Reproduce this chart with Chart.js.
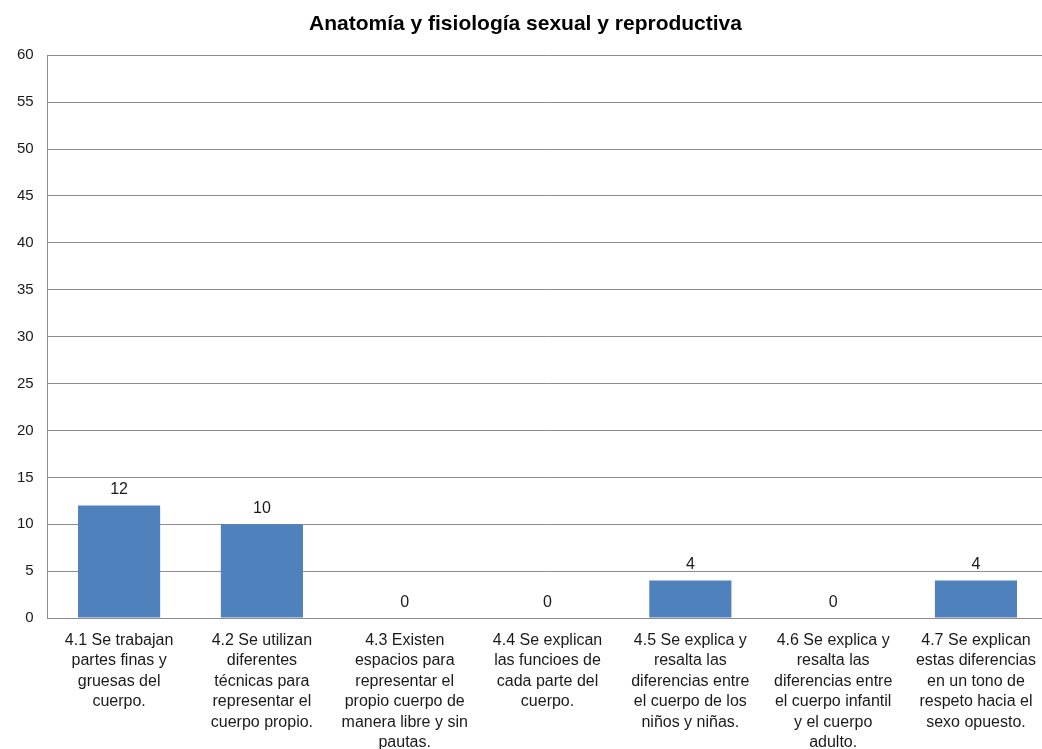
<!DOCTYPE html>
<html>
<head>
<meta charset="utf-8">
<script src="https://cdn.jsdelivr.net/npm/chart.js@4"></script>
<style>
  html, body { margin: 0; background: #fff; overflow: hidden; }
  #wrap { width: 1042px; height: 749px; overflow: hidden; }
</style>
</head>
<body>
<div id="wrap"><canvas id="myChart" width="1048" height="765"></canvas></div>
<script>
var chartTitle = "Anatomía y fisiología sexual y reproductiva";

var categories = [
  ["4.1 Se trabajan", "partes finas y", "gruesas del", "cuerpo."],
  ["4.2 Se utilizan", "diferentes", "técnicas para", "representar el", "cuerpo propio."],
  ["4.3 Existen", "espacios para", "representar el", "propio cuerpo de", "manera libre y sin", "pautas."],
  ["4.4 Se explican", "las funcioes de", "cada parte del", "cuerpo."],
  ["4.5 Se explica y", "resalta las", "diferencias entre", "el cuerpo de los", "niños y niñas."],
  ["4.6 Se explica y", "resalta las", "diferencias entre", "el cuerpo infantil", "y el cuerpo", "adulto."],
  ["4.7 Se explican", "estas diferencias", "en un tono de", "respeto hacia el", "sexo opuesto."]
];

var values = [12, 10, 0, 0, 4, 0, 4];

var yMin = 0;
var yMax = 60;
var yStep = 5;

var fontFam = "'Liberation Sans', Arial, sans-serif";

// numbers above each bar
var valueLabels = {
  id: 'valueLabels',
  afterDatasetsDraw: function(chart) {
    var ctx = chart.ctx;
    var meta = chart.getDatasetMeta(0);
    ctx.save();
    ctx.font = "16px " + fontFam;
    ctx.fillStyle = "#1a1a1a";
    ctx.textAlign = "center";
    ctx.textBaseline = "bottom";
    meta.data.forEach(function(bar, i) {
      ctx.fillText(values[i], bar.x, bar.y - 8);
    });
    ctx.restore();
  }
};

new Chart("myChart", {
  type: "bar",
  data: {
    labels: categories,
    datasets: [{
      data: values,
      backgroundColor: "#4f81bd",
      borderWidth: 0,
      categoryPercentage: 1,
      barPercentage: 0.575
    }]
  },
  options: {
    responsive: false,
    animation: false,
    layout: { padding: { left: 3, right: 0, top: 0, bottom: 0 } },
    plugins: {
      legend: { display: false },
      tooltip: { enabled: false },
      title: {
        display: true,
        text: chartTitle,
        color: "#000",
        font: { family: fontFam, size: 21, weight: "bold" },
        padding: { top: 12, bottom: 18 }
      }
    },
    scales: {
      x: {
        grid: { display: false, drawTicks: false },
        border: { display: true, color: "#8c8c8c" },
        ticks: {
          color: "#1a1a1a",
          maxRotation: 0,
          autoSkip: false,
          padding: 12,
          font: { family: fontFam, size: 16, lineHeight: 1.28 }
        }
      },
      y: {
        min: yMin,
        max: yMax,
        grid: { color: "#8c8c8c", drawTicks: false },
        border: { display: true, color: "#8c8c8c" },
        ticks: {
          stepSize: yStep,
          color: "#1a1a1a",
          padding: 14,
          font: { family: fontFam, size: 15 }
        }
      }
    }
  },
  plugins: [valueLabels]
});
</script>
</body>
</html>
